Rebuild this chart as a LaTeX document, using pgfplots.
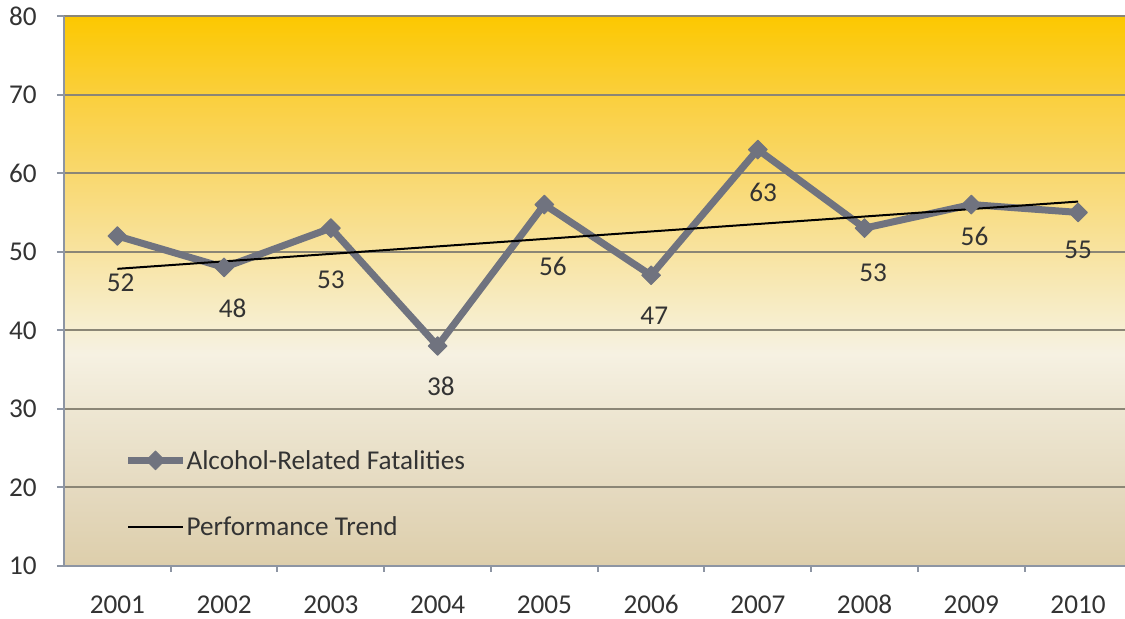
\documentclass[border=0pt]{standalone}
\usepackage{pgfplots}
\pgfplotsset{compat=1.18}
\usepackage{fontspec}
\setmainfont{Carlito}
\definecolor{g10}{HTML}{DDCEAB}
\definecolor{g20}{HTML}{E5DAC0}
\definecolor{g30}{HTML}{EEE7D3}
\definecolor{g37}{HTML}{F6F1E2}
\definecolor{g43}{HTML}{F7ECC4}
\definecolor{g50}{HTML}{F8E3A0}
\definecolor{g60}{HTML}{F9D86E}
\definecolor{g70}{HTML}{FACF3C}
\definecolor{g80}{HTML}{FCC800}
\definecolor{linec}{HTML}{70737F}
\definecolor{axisc}{HTML}{8D95A3}
\definecolor{gridc}{HTML}{8B8676}
\definecolor{txtc}{HTML}{333333}
\pgfdeclareverticalshading{goldshade}{100bp}{color(0bp)=(g10); color(25bp)=(g10); color(32.14bp)=(g20); color(39.29bp)=(g30); color(44.29bp)=(g37); color(48.57bp)=(g43); color(53.57bp)=(g50); color(60.71bp)=(g60); color(67.86bp)=(g70); color(75bp)=(g80); color(100bp)=(g80)}
\begin{document}
\begin{tikzpicture}
\begin{axis}[name=ax, scale only axis, width=530.5pt, height=275pt,
  xmin=-0.5, xmax=9.44, ymin=10, ymax=80,
  axis background/.style={shade, shading=goldshade},
  axis x line*=bottom, axis y line*=left,
  axis line style={color=axisc, line width=1pt},
  ytick={10,20,...,80},
  xtick={0,...,9}, xticklabels={2001,2002,2003,2004,2005,2006,2007,2008,2009,2010},
  minor xtick={0.5,1.5,...,8.5},
  tick align=outside,
  major tick length=3.5pt, minor tick length=3pt,
  major x tick style={draw=none},
  tick style={color=axisc, line width=1pt},
  ymajorgrids, grid style={color=gridc, line width=1pt},
  /pgf/number format/assume math mode=true,
  every tick label/.append style={font=\fontsize{13.6}{15}\selectfont, text=txtc},
  yticklabel style={inner sep=0pt, anchor=east, xshift=-10pt},
  xticklabel style={inner sep=0pt, anchor=north, yshift=-11pt},
  legend style={draw=none, fill=none, at={(0.051,0.217)}, anchor=north west,
    font=\fontsize{13.6}{15}\selectfont, text=txtc, row sep=24pt,
    nodes={inner sep=0pt, text height=9pt, text depth=0pt},
    /tikz/every even column/.append style={column sep=1.5pt}},
  legend cell align=left,
  legend image code/.code={\draw[mark repeat=2,mark phase=2,#1] plot coordinates {(0pt,0pt) (13.75pt,0pt) (27.5pt,0pt)};},
]
\addplot[color=linec, line width=3.5pt, line join=round, mark=square*, mark size=3.3pt, mark options={rotate=45, solid, fill=linec, draw=linec, line width=0.5pt}]
  coordinates {(0,52) (1,48) (2,53) (3,38) (4,56) (5,47) (6,63) (7,53) (8,56) (9,55)};
\addlegendentry{Alcohol-Related Fatalities}
\addplot[color=black, line width=1pt, mark=none] coordinates {(0,47.82) (9,56.38)};
\addlegendentry{Performance Trend}
\addplot[forget plot, draw=none, mark=none, nodes near coords, point meta=explicit symbolic,
  every node near coord/.style={anchor=center, inner sep=0pt, font=\fontsize{13.6}{15}\selectfont, text=txtc}]
  table[meta=lab] {
x y lab
0.03 46.0 52
1.08 42.8 48
2.00 46.4 53
3.03 32.9 38
4.08 48.1 56
5.03 41.9 47
6.05 57.5 63
7.08 47.3 53
8.03 51.9 56
9.00 50.2 55
};
\end{axis}
\pgfresetboundingbox
\path ([xshift=-32pt,yshift=-26.5pt]ax.south west) rectangle ([yshift=8pt]ax.north east);
\end{tikzpicture}
\end{document}
